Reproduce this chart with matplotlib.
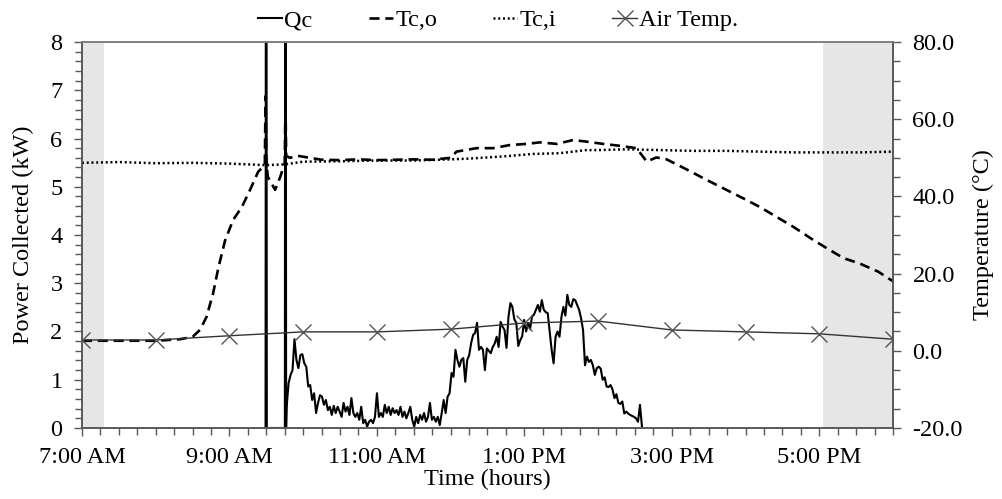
import numpy as np
import matplotlib
matplotlib.use("Agg")
import matplotlib.pyplot as plt
from matplotlib.ticker import MultipleLocator, FormatStrFormatter, FixedLocator

plt.rcParams['font.family'] = ['Liberation Serif', 'DejaVu Serif']
plt.rcParams['font.size'] = 17.5

# power collected, kW (two start-up spikes, then readings from 9:46 to 14:36)
qc_spike_t = [9.490, 9.495, 9.502, 9.507, 9.752, 9.757, 9.764, 9.769]
qc_spike = [0, 12, 12, 0, 0, 12, 12, 0]
qc_vals = [0.44, 0.93, 1.10, 1.20, 1.84, 1.41, 1.24, 1.51, 1.53, 1.34, 1.27, 0.86,
           0.89, 0.58, 0.72, 0.31, 0.52, 0.68, 0.65, 0.48, 0.58, 0.37, 0.44, 0.27,
           0.46, 0.31, 0.44, 0.34, 0.23, 0.52, 0.34, 0.44, 0.27, 0.62, 0.31, 0.23,
           0.31, 0.17, 0.44, 0.10, 0.17, 0.03, 0.13, 0.17, 0.10, 0.23, 0.72, 0.23,
           0.31, 0.23, 0.48, 0.31, 0.44, 0.27, 0.41, 0.31, 0.37, 0.27, 0.44, 0.23,
           0.34, 0.20, 0.31, 0.44, 0.17, 0.03, 0.23, 0.10, 0.27, 0.17, 0.31, 0.13,
           0.23, 0.52, 0.17, 0.23, 0.13, 0.23, 0.06, 0.31, 0.58, 0.31, 0.65, 0.72,
           1.14, 1.06, 1.62, 1.41, 1.27, 1.41,
           1.45, 0.96, 1.41, 1.51, 1.76, 1.93, 1.97, 2.18, 1.62, 1.68, 1.62, 1.20,
           1.65, 1.60, 1.55, 1.68, 1.75, 1.89, 1.68, 2.20, 2.10, 2.03, 1.66, 2.30,
           2.59, 2.51, 2.25, 2.18, 1.70, 1.82, 1.90, 2.24, 2.00, 2.18, 2.05, 2.31,
           2.35, 2.45, 2.55, 2.41, 2.65, 2.45, 2.40, 2.38, 2.00, 1.62, 1.34, 1.89,
           2.00, 1.89, 2.30, 2.51, 2.33, 2.76, 2.55, 2.51, 2.67, 2.65, 2.55, 2.45,
           2.27, 2.03, 1.30, 1.48, 1.37, 1.41, 1.30, 1.10, 1.24, 1.27, 1.23, 1.00,
           1.05, 0.86, 0.85, 0.89, 0.80, 0.62, 0.70, 0.52, 0.50, 0.55, 0.30, 0.34,
           0.30, 0.27, 0.25, 0.23, 0.20, 0.13, 0.48, 0.03]
qc_start, qc_end = 9.776, 14.595

# collector outlet temperature, °C
tco_t = [7.0, 7.5, 8.0, 8.33, 8.5, 8.6, 8.69, 8.78, 8.85, 8.94, 9.05, 9.17, 9.28,
         9.39, 9.48, 9.49, 9.50, 9.52, 9.62, 9.69, 9.75, 9.76, 9.77, 9.82, 9.93,
         10.25, 10.5, 10.75, 11.0, 11.25, 11.5, 11.75, 12.0, 12.08, 12.35, 12.58,
         12.8, 13.03, 13.21, 13.44, 13.66, 13.84, 14.07, 14.3, 14.52, 14.61, 14.66,
         14.79, 14.93, 15.2, 15.43, 15.74, 16.01, 16.2, 16.42, 16.65, 16.92, 17.1,
         17.33, 17.55, 17.8, 18.0]
tco = [2.6, 2.6, 2.6, 3.0, 3.6, 5.4, 8.8, 15.0, 21.5, 28.5, 33.9, 37.3, 41.7,
       46.4, 48.1, 66.0, 50.0, 45.1, 41.7, 45.1, 48.6, 64.0, 50.5, 50.0, 50.5,
       49.5, 49.4, 49.6, 49.4, 49.5, 49.6, 49.5, 50.0, 51.6, 52.5, 52.5,
       53.3, 53.6, 54.0, 53.6, 54.6, 54.2, 53.6, 53.1, 52.5, 50.3, 49.0,
       50.1, 49.6, 47.0, 44.7, 41.7, 39.1, 37.2, 34.7, 32.1, 28.7, 26.6,
       24.0, 22.6, 20.5, 18.0]

# collector inlet temperature, °C
tci_t = [7.0, 7.5, 8.0, 8.5, 9.0, 9.5, 9.75, 10.0, 10.5, 11.0, 11.5, 12.0, 12.25,
         12.67, 13.12, 13.48, 13.84, 14.0, 14.39, 14.84, 15.3, 15.74, 16.2, 16.65,
         17.1, 17.55, 18.0]
tci = [48.7, 48.9, 48.6, 48.7, 48.5, 48.1, 48.3, 49.0, 49.1, 49.3, 49.3, 49.6, 49.8,
       50.3, 51.0, 51.2, 52.0, 52.0, 52.2, 52.0, 51.8, 51.8, 51.6, 51.4,
       51.4, 51.4, 51.6]

# hourly air temperature, °C
air_t = [7, 8, 9, 10, 11, 12, 13, 14, 15, 16, 17, 18]
air = [2.8, 2.8, 3.9, 4.9, 4.9, 5.6, 7.2, 7.7, 5.4, 4.9, 4.4, 3.0]

time_ticks = [7, 9, 11, 13, 15, 17]
time_labels = ['7:00 AM', '9:00 AM', '11:00 AM', '1:00 PM', '3:00 PM', '5:00 PM']
shade = [(7.0, 7.3), (17.05, 18.0)]

qc_t = np.concatenate([qc_spike_t, np.linspace(qc_start, qc_end, len(qc_vals))])
qc = np.concatenate([qc_spike, qc_vals])

fig = plt.figure(figsize=(10.02, 4.99), dpi=100)
ax = fig.add_axes([0.0818, 0.1423, 0.8094, 0.7735])
ax2 = ax.twinx()

for a, b in shade:
    ax.axvspan(a, b, color='#e6e6e6', lw=0, zorder=0)

l1, = ax.plot(qc_t, qc, color='black', lw=1.5, label='Qc')
l2, = ax2.plot(tco_t, tco, color='black', lw=1.9, ls=(0, (3.8, 2.2)), label='Tc,o')
l3, = ax2.plot(tci_t, tci, color='black', lw=1.8, ls=(0, (0.8, 1.1)), label='Tc,i')
l4, = ax2.plot(air_t, air, color='#333333', lw=1.0, marker='x', ms=11,
               mec='#555555', mew=1.0, label='Air Temp.')

ax.set_xlim(7, 18)
ax.set_ylim(0, 8)
ax2.set_ylim(-20, 80)

ax.xaxis.set_major_locator(FixedLocator(time_ticks))
ax.set_xticklabels(time_labels)
ax.xaxis.set_minor_locator(MultipleLocator(0.25))
ax.yaxis.set_major_locator(MultipleLocator(1))
ax.yaxis.set_minor_locator(MultipleLocator(0.2))
ax2.yaxis.set_major_locator(MultipleLocator(20))
ax2.yaxis.set_minor_locator(MultipleLocator(5))
ax2.yaxis.set_major_formatter(FormatStrFormatter('%.1f'))

sc = '#595959'
for a in (ax, ax2):
    for s in a.spines.values():
        s.set_color(sc)
        s.set_linewidth(1.2)
    a.spines['top'].set_color('#808080')
    a.tick_params(which='both', direction='out', color=sc, width=1.0)
    a.tick_params(which='major', length=6)
    a.tick_params(which='minor', length=5)
ax.tick_params(axis='x', which='both', pad=8)
ax.tick_params(axis='y', which='both', pad=8)
ax2.tick_params(axis='y', which='both', pad=8)

ax.set_xlabel('Time (hours)', labelpad=0)
ax.set_ylabel('Power Collected (kW)', labelpad=12)
ax2.set_ylabel('Temperature (°C)', labelpad=7)

fig.legend(handles=[l1, l2, l3, l4], loc='upper center', bbox_to_anchor=(0.497, 1.025),
           ncol=4, frameon=False, handlelength=1.0, handletextpad=0.1,
           columnspacing=2.3)

fig.savefig('out.png', dpi=100)
